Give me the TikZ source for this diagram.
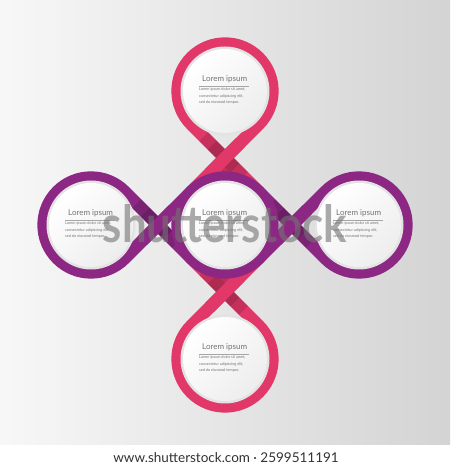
\documentclass[tikz,border=0pt]{standalone}
\usepackage{fontspec}
\setmainfont{Lato}
\usetikzlibrary{calc}
\tikzset{ribbon/.style={line width=12.5pt, line cap=butt}}
\tikzset{disc rim/.style={fill=gray!22}, disc face/.style={top color=white, bottom color=gray!14, shading angle=45}}
\tikzset{disc title/.style={anchor=base west, inner sep=0pt, text=black!55, font=\fontsize{8}{8}\selectfont}}
\tikzset{disc body/.style={anchor=north west, inner sep=0pt, align=left, text=black!55, font=\fontsize{3.8}{6.3}\selectfont}}

\begin{document}
\begin{tikzpicture}[x=1pt, y=1pt]

	\definecolor{pinkband}{RGB}{225,55,105}
	\definecolor{purpleband}{RGB}{140,40,132}

	\useasboundingbox (0,0) rectangle (450,470);

	% background
	\shade[left color=gray!6, right color=gray!34] (0,25) rectangle (450,470);
	\fill[white] (0,0) rectangle (450,25);

	% sizes
	\def \dist {134};
	\def \rad {47.4};

	% centres of the discs
	\coordinate (O) at (225,245);
	\coordinate (T) at ($(O)+(0,\dist)$);
	\coordinate (B) at ($(O)-(0,\dist)$);
	\coordinate (L) at ($(O)-(\dist,0)$);
	\coordinate (R) at ($(O)+(\dist,0)$);

	% necks, where the ribbon crosses itself
	\coordinate (nT) at ($(O)!0.5!(T)$);
	\coordinate (nB) at ($(O)!0.5!(B)$);
	\coordinate (nL) at ($(O)!0.5!(L)$);
	\coordinate (nR) at ($(O)!0.5!(R)$);

	% inner corners of the diamond
	\fill[pinkband!85!black] (nT) -- ($(O)+(45:\rad)$) arc[start angle=45, end angle=135, radius=\rad] -- cycle;
	\fill[pinkband!85!black] (nB) -- ($(O)+(225:\rad)$) arc[start angle=225, end angle=315, radius=\rad] -- cycle;

	% ribbon loops
	\draw[ribbon, pinkband] ($(O)+(45:\rad)$) -- ($(T)+(225:\rad)$) arc[start angle=225, end angle=-45, radius=\rad] -- ($(O)+(135:\rad)$);
	\draw[ribbon, purpleband] ($(O)+(135:\rad)$) -- ($(L)+(315:\rad)$) arc[start angle=315, end angle=45, radius=\rad] -- ($(O)+(225:\rad)$);
	\draw[ribbon, pinkband] ($(O)+(225:\rad)$) -- ($(B)+(45:\rad)$) arc[start angle=45, end angle=-225, radius=\rad] -- ($(O)+(315:\rad)$);
	\draw[ribbon, purpleband] ($(O)+(315:\rad)$) -- ($(R)+(135:\rad)$) arc[start angle=135, end angle=-135, radius=\rad] -- ($(O)+(45:\rad)$);

	% crossings: the "\" strand goes under
	\foreach \n/\col in {nT/pinkband, nL/purpleband, nB/pinkband, nR/purpleband}
	{
		\draw[ribbon, black, opacity=0.12] ($(\n)+(135:30)$) -- ($(\n)+(-45:26)$);
		\draw[ribbon, black, opacity=0.12] ($(\n)+(135:18)$) -- ($(\n)+(-45:14)$);
		\draw[ribbon, \col] ($(\n)+(45:22)$) -- ($(\n)+(225:22)$);
	}

	% centre ring
	\draw[ribbon, purpleband] (O) circle (\rad);

	% discs with text
	\foreach \c in {T,L,O,R,B}
	{
		\fill[disc rim] (\c) circle (44.5);
		\shade[disc face] (\c) circle (42);
		\node[disc title] (title\c) at ($(\c)+(-23,9)$) {Lorem ipsum};
		\draw[black!35, line width=0.6] ($(\c)+(-26,5)$) -- ($(\c)+(24,5)$);
		\node[disc body] (body\c) at ($(\c)+(-26,3.2)$) {Lorem ipsum dolor sit amet,\\consectetur adipiscing elit,\\sed do eiusmod tempor.};
	}

	% watermark
	\node[anchor=base, inner sep=0pt, text=black!55, opacity=0.6] (mark) at (225,227) {\resizebox{244pt}{38pt}{\bfseries shutterstock}};
	\node[inner sep=0pt, text=black!80, font=\fontsize{13.5}{13.5}\selectfont] (stock) at (226,12) {www.shutterstock.com · 2599511191};

\end{tikzpicture}
\end{document}
